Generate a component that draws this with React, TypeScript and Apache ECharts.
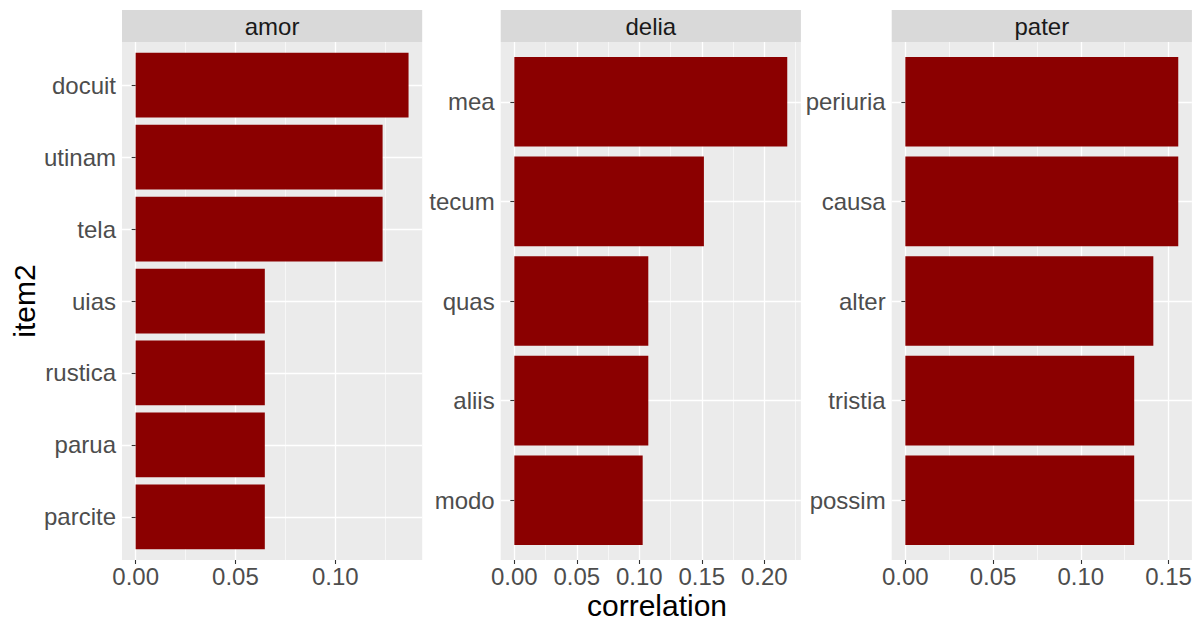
import React, { useEffect, useRef } from "react";
import * as echarts from "echarts";

const panelNames = ["amor", "delia", "pater"];

const amorWords = ["docuit", "utinam", "tela", "uias", "rustica", "parua", "parcite"];
const amorValues = [0.1367, 0.1237, 0.1237, 0.0647, 0.0647, 0.0647, 0.0647];

const deliaWords = ["mea", "tecum", "quas", "aliis", "modo"];
const deliaValues = [0.2184, 0.1517, 0.1072, 0.1072, 0.1027];

const paterWords = ["periuria", "causa", "alter", "tristia", "possim"];
const paterValues = [0.1555, 0.1555, 0.1413, 0.1304, 0.1304];

const amorTicks = [0, 0.05, 0.1];
const deliaTicks = [0, 0.05, 0.1, 0.15, 0.2];
const paterTicks = [0, 0.05, 0.1, 0.15];

const xTitle = "correlation";
const yTitle = "item2";

const FONT = "'Liberation Sans', Arial, Helvetica, sans-serif";

export default function App() {
  const ref = useRef<HTMLDivElement>(null);

  useEffect(() => {
    if (!ref.current) return;
    const chart = echarts.init(ref.current, undefined, { renderer: "svg" });

    const words = [amorWords, deliaWords, paterWords];
    const values = [amorValues, deliaValues, paterValues];
    const ticks = [amorTicks, deliaTicks, paterTicks];
    const lefts = [122, 500.7, 891.7];
    const width = 300.2;
    const top = 42;
    const height = 518;

    const grids: any[] = [];
    const xAxes: any[] = [];
    const yAxes: any[] = [];
    const series: any[] = [];
    const graphics: any[] = [];

    // outer grids (panel background, x axis)
    for (let p = 0; p < 3; p++) {
      const mx = Math.max(...values[p]);
      const min = -0.05 * mx;
      const max = 1.05 * mx;
      grids.push({
        left: lefts[p],
        top,
        width,
        height,
        show: true,
        backgroundColor: "#EBEBEB",
        borderWidth: 0,
        containLabel: false,
      });
      xAxes.push({
        type: "value",
        gridIndex: p,
        min,
        max,
        minInterval: 0.05,
        maxInterval: 0.05,
        axisLine: { show: false },
        axisTick: {
          show: true,
          customValues: ticks[p],
          length: 4,
          lineStyle: { color: "#333333", width: 1.1 },
        },
        axisLabel: {
          show: true,
          customValues: ticks[p],
          formatter: (v: number) => v.toFixed(2),
          fontSize: 24,
          color: "#4D4D4D",
          fontFamily: FONT,
          margin: 4,
        },
        splitLine: { show: true, lineStyle: { color: "#FFFFFF", width: 1.3 } },
        minorTick: { show: false, splitNumber: 2 },
        minorSplitLine: { show: true, lineStyle: { color: "#FFFFFF", width: 0.6 } },
      });
      yAxes.push({
        type: "value",
        gridIndex: p,
        show: false,
        min: 0,
        max: 1,
        splitLine: { show: false },
      });
    }

    // inner grids (categories, bars)
    for (let p = 0; p < 3; p++) {
      const n = words[p].length;
      const u = height / (n - 1 + 1.2);
      const mx = Math.max(...values[p]);
      grids.push({
        left: lefts[p],
        top: top + 0.6 * u,
        width,
        height: (n - 1) * u,
        show: false,
        containLabel: false,
      });
      xAxes.push({
        type: "value",
        gridIndex: 3 + p,
        min: -0.05 * mx,
        max: 1.05 * mx,
        show: false,
        splitLine: { show: false },
      });
      yAxes.push({
        type: "category",
        gridIndex: 3 + p,
        data: words[p],
        inverse: true,
        boundaryGap: false,
        axisLine: { show: false },
        axisTick: { show: true, length: 4, lineStyle: { color: "#333333", width: 1.1 } },
        axisLabel: {
          show: true,
          fontSize: 24,
          color: "#4D4D4D",
          fontFamily: FONT,
          margin: 6,
          interval: 0,
        },
        splitLine: { show: true, lineStyle: { color: "#FFFFFF", width: 1.3 } },
      });
      series.push({
        type: "bar",
        xAxisIndex: 3 + p,
        yAxisIndex: 3 + p,
        data: values[p],
        barWidth: "90%",
        clip: false,
        itemStyle: { color: "#8B0000" },
        silent: true,
      });

      graphics.push({
        type: "rect",
        shape: { x: lefts[p], y: 10, width, height: 32 },
        style: { fill: "#D9D9D9" },
      });
      graphics.push({
        type: "text",
        x: lefts[p] + width / 2,
        y: 26,
        style: {
          text: panelNames[p],
          fill: "#1A1A1A",
          fontSize: 24,
          fontFamily: FONT,
          align: "center",
          verticalAlign: "middle",
        },
      });
    }

    graphics.push({
      type: "text",
      x: 657,
      y: 605,
      style: {
        text: xTitle,
        fill: "#000000",
        fontSize: 30,
        fontFamily: FONT,
        align: "center",
        verticalAlign: "middle",
      },
    });
    graphics.push({
      type: "text",
      x: 24,
      y: 301,
      rotation: Math.PI / 2,
      style: {
        text: yTitle,
        fill: "#000000",
        fontSize: 30,
        fontFamily: FONT,
        align: "center",
        verticalAlign: "middle",
      },
    });

    chart.setOption({
      animation: false,
      backgroundColor: "#FFFFFF",
      textStyle: { fontFamily: FONT },
      grid: grids,
      xAxis: xAxes,
      yAxis: yAxes,
      series,
      graphic: graphics,
    });

    return () => chart.dispose();
  }, []);

  return (
    <div
      ref={ref}
      style={{ position: "absolute", left: 0, top: 0, width: 1202, height: 621 }}
    />
  );
}
